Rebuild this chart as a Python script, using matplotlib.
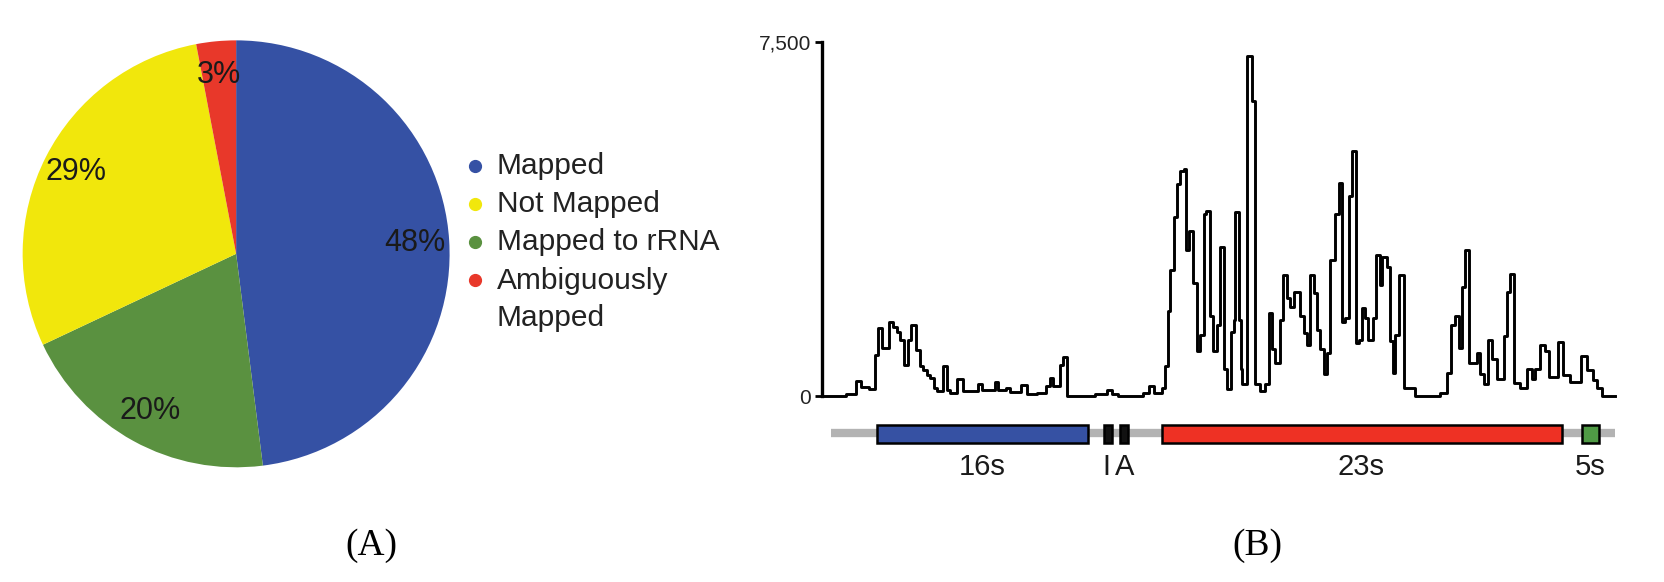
import matplotlib
matplotlib.use("Agg")
import matplotlib.pyplot as plt
from matplotlib.patches import Rectangle

plt.rcParams["font.family"] = ["Liberation Sans", "DejaVu Sans"]

# ---- panel A: read mapping summary ----
pie_labels = ["Mapped", "Mapped to rRNA", "Not Mapped", "Ambiguously\nMapped"]
pie_sizes = [48, 20, 29, 3]
pie_colors = ["#3551a4", "#5a9140", "#f1e70c", "#e8382a"]
legend_order = [0, 2, 1, 3]

# ---- panel B: coverage over the rRNA operon (bin start in bp, reads) ----
cov_pos = [0, 170, 240, 275, 330, 372, 400, 425, 475, 505, 530, 555, 580, 614,
           635, 670, 700, 720, 745, 770, 795, 820, 860, 888, 910, 960, 1005,
           1110, 1138, 1230, 1257, 1310, 1340, 1420, 1460, 1530, 1600, 1625,
           1650, 1700, 1720, 1750, 1950, 2030, 2065, 2110, 2293, 2329, 2365,
           2424, 2448, 2465, 2484, 2508, 2531, 2555, 2579, 2598, 2615, 2650,
           2674, 2698, 2722, 2741, 2770, 2793, 2817, 2836, 2870, 2889, 2917,
           2936, 2948, 2972, 2989, 3000, 3031, 3067, 3091, 3127, 3162, 3186,
           3210, 3234, 3270, 3289, 3317, 3341, 3365, 3412, 3436, 3460, 3484,
           3508, 3532, 3555, 3579, 3603, 3627, 3662, 3686, 3710, 3734, 3758,
           3781, 3808, 3831, 3853, 3877, 3900, 3931, 3951, 3979, 3996, 4031,
           4055, 4074, 4089, 4115, 4151, 4234, 4412, 4460, 4489, 4520, 4543,
           4567, 4591, 4615, 4674, 4698, 4722, 4751, 4782, 4817, 4865, 4889,
           4912, 4936, 4984, 5031, 5067, 5091, 5127, 5162, 5186, 5253, 5290,
           5340, 5420, 5460, 5500, 5530, 5570, 5662]
cov_val = [0, 35, 330, 200, 160, 880, 1440, 1020, 1580, 1470, 1370, 1190, 670,
           1190, 1510, 980, 630, 560, 455, 385, 175, 105, 630, 140, 70, 365,
           105, 265, 140, 300, 140, 175, 85, 245, 35, 70, 210, 385, 210, 670,
           840, 0, 50, 125, 35, 0, 70, 215, 70, 175, 630, 1795, 2670, 3795,
           4500, 4780, 4810, 3090, 3510, 2390, 950, 1300, 3865, 3935, 1690,
           950, 1510, 3160, 570, 145, 1370, 1620, 3900, 1620, 570, 250, 7220,
           6250, 250, 110, 250, 1760, 990, 705, 1620, 2570, 2075, 1900, 2215,
           1690, 1340, 1090, 2570, 2180, 1410, 990, 460, 920, 2880, 3865, 4530,
           1580, 1650, 4250, 5200, 1130, 1200, 1860, 1650, 1200, 1650, 2990,
           2350, 2950, 2740, 1160, 500, 1300, 2570, 180, 0, 70, 500, 1510,
           1690, 1020, 2320, 3090, 700, 920, 460, 250, 1200, 780, 355, 1270,
           2215, 2600, 285, 180, 570, 355, 570, 1090, 950, 400, 1150, 450,
           300, 855, 560, 350, 180, 0, 0]

# operon features: (start, end, colour, label, label x)
genes = [(390, 1900, "#3651a3", "16s", 1140),
         (2010, 2068, "#111111", "I", 2025),
         (2122, 2184, "#111111", "A", 2160),
         (2424, 5283, "#ee3124", "23s", 3850),
         (5427, 5549, "#4f9a45", "5s", 5480)]
track_start, track_end = 60, 5662

W, H = 1568.0, 548.0  # layout grid

fig = plt.figure(figsize=(16.64, 5.82), dpi=100)

# pie
ax_pie = fig.add_axes([20 / W, 1 - 440 / H, 405 / W, 402 / H])
wedges, texts, autotexts = ax_pie.pie(
    pie_sizes, colors=pie_colors, startangle=90, counterclock=False,
    autopct=lambda p: f"{p:.0f}%", pctdistance=0.84,
    textprops=dict(fontsize=22, color="#1a1a1a"))
ax_pie.set_xlim(-1.0, 1.0)
ax_pie.set_ylim(-1.0, 1.0)
ax_pie.set_aspect("equal")

# coverage profile
ax = fig.add_axes([775 / W, 1 - 373 / H, 747 / W, 333 / H])
ax.step(cov_pos, cov_val, where="post", color="black", lw=2.1, clip_on=False)
ax.set_xlim(0, track_end)
ax.set_ylim(0, 7500)
ax.set_yticks([0, 7500])
ax.set_yticklabels(["0", "7,500"], fontsize=15, color="#222222")
ax.tick_params(axis="y", length=5, width=2, pad=3)
ax.set_xticks([])
for s in ("top", "right", "bottom"):
    ax.spines[s].set_visible(False)
ax.spines["left"].set_linewidth(2.4)
ax.patch.set_alpha(0)

# operon track
ax_tr = fig.add_axes([775 / W, 1 - 458 / H, 747 / W, 66 / H])
ax_tr.set_xlim(0, track_end)
ax_tr.set_ylim(0, 66)
ax_tr.axis("off")
ax_tr.plot([track_start, track_end], [50, 50], color="#b3b3b3", lw=6,
           solid_capstyle="butt", zorder=1)
for start, end, col, lab, lx in genes:
    ax_tr.add_patch(Rectangle((start, 41), end - start, 17, facecolor=col,
                              edgecolor="black", lw=1.8, zorder=2))
    ax_tr.text(lx, 18, lab, ha="center", va="center", fontsize=21,
               color="#1a1a1a")

# legend and panel letters on an overlay in reference pixel coordinates
ov = fig.add_axes([0, 0, 1, 1])
ov.set_xlim(0, W)
ov.set_ylim(H, 0)
ov.axis("off")
for row, i in enumerate(legend_order):
    y = 156 + row * 36
    ov.plot([448], [y], "o", color=pie_colors[i], ms=8.5)
    multi = "\n" in pie_labels[i]
    ov.text(468, y - 13 if multi else y, pie_labels[i], ha="left",
            va="top" if multi else "center", fontsize=21.5,
            color="#222222", linespacing=1.42)

ov.text(350, 514, "(A)", ha="center", va="center", fontsize=27,
        family="Liberation Serif")
ov.text(1185, 514, "(B)", ha="center", va="center", fontsize=27,
        family="Liberation Serif")

fig.savefig("out.png", dpi=100)
